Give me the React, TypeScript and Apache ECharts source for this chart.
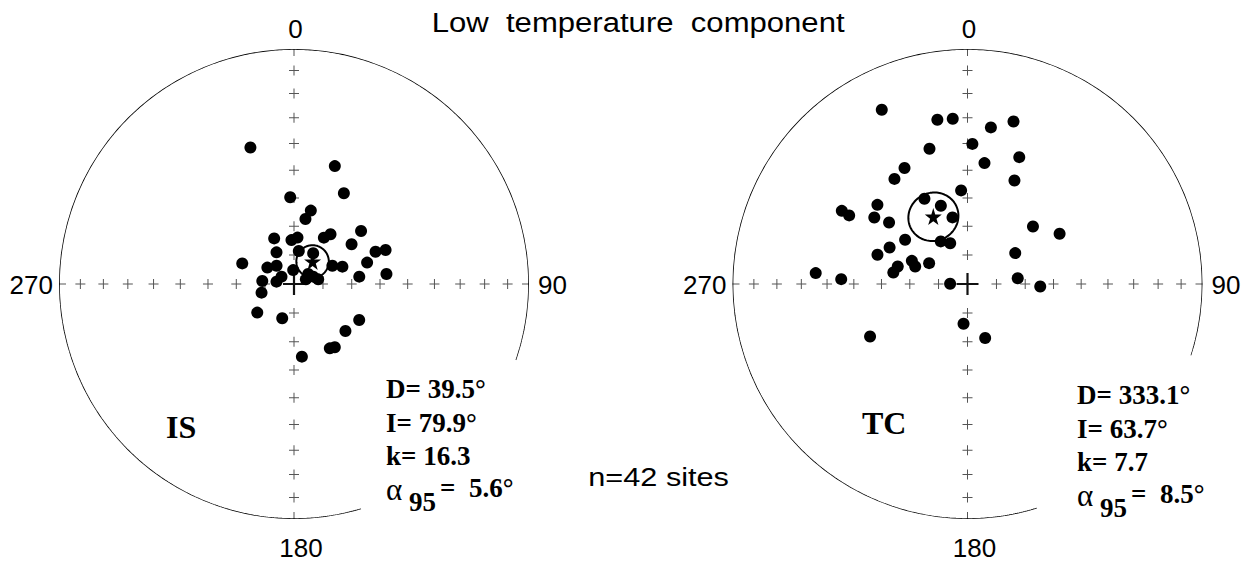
import React, { useEffect, useRef } from "react";
import * as echarts from "echarts";

// ---- data: site mean directions (declination / inclination, degrees) ----
const IS_DEC = [342.3, 19.1, 28.8, 357.5, 12.9, 10.0, 51.7, 336.5, 356.7, 4.3, 32.8, 36.3, 55.4, 331.1, 8.3, 32.0, 68.4, 69.6, 291.7, 301.6, 316.3, 356.6, 64.5, 70.3, 73.7, 54.8, 79.1, 69.1, 68.5, 300.4, 277.6, 275.4, 83.6, 83.8, 255.1, 232.1, 199.0, 118.9, 132.4, 150.9, 147.2, 173.8];
const IS_INC = [38.9, 45.9, 53.7, 59.7, 63.8, 67.1, 60.2, 72.8, 74.8, 73.9, 70.9, 68.6, 65.7, 77.5, 78.5, 77.5, 59.4, 55.8, 70.7, 79.2, 81.3, 85.2, 75.3, 72.2, 63.5, 84.0, 81.5, 82.9, 85.6, 85.0, 83.9, 79.0, 67.2, 57.5, 78.4, 73.9, 77.5, 64.1, 65.8, 64.4, 63.8, 64.6];
const TC_DEC = [333.8, 349.6, 354.9, 8.5, 15.8, 2.0, 344.3, 22.2, 8.0, 331.5, 325.2, 24.4, 356.1, 333.2, 341.2, 347.3, 311.3, 300.2, 300.1, 305.5, 308.1, 48.7, 61.4, 305.3, 327.9, 337.0, 295.1, 288.0, 57.1, 292.6, 288.5, 298.5, 284.1, 278.8, 274.1, 272.2, 270.6, 83.4, 92.0, 185.7, 241.7, 161.9];
const TC_INC = [18.5, 29.7, 30.1, 33.1, 28.9, 40.1, 40.0, 41.3, 46.9, 43.2, 44.7, 50.0, 57.2, 56.6, 61.2, 66.3, 47.7, 38.1, 41.4, 49.7, 55.1, 59.6, 53.2, 63.4, 72.6, 74.7, 60.0, 56.9, 70.3, 69.1, 70.9, 74.9, 65.0, 63.9, 35.5, 45.3, 84.0, 72.5, 64.7, 76.2, 51.1, 70.3];

const NET_LABELS = ["IS", "TC"];
const MEAN_DEC = [39.5, 333.1];
const MEAN_INC = [79.9, 63.7];
const KAPPA = [16.3, 7.7];
const ALPHA95 = [5.6, 8.5];
const N_SITES = 42;
const GRID_INC = [10, 20, 30, 40, 50, 60, 70, 80];
const CARDINAL_AZ = [0, 90, 180, 270];
const TITLE = "Low  temperature  component";

// ---- layout ----
const RAD = Math.PI / 180;
const R = 235;
const NETS = [
  { cx: 294, cy: 284, arcFrom: 163.4, arcTo: 468.9, statX: 386, statY: 389, labelX: 166, labelY: 427 },
  { cx: 967.5, cy: 284, arcFrom: 162.8, arcTo: 467.7, statX: 1077, statY: 395, labelX: 862, labelY: 422.5 },
];
const SANS = "'Liberation Sans', Arial, Helvetica, sans-serif";
const SERIF = "'Liberation Serif', 'Times New Roman', serif";

const PLUS = "path://M0,4.5h10v1h-10z M4.5,0h1v10h-1z";
const PLUS_BIG = "path://M0,9h20v2h-20z M9,0h2v20h-2z";
const BAR = "path://M0,0h10v1h-10z";
const STAR = "path://M50,0 L61,35 L98,35 L68,57 L79,91 L50,70 L21,91 L32,57 L2,35 L39,35 Z";

const eqArea = (inc: number) => Math.SQRT2 * Math.sin(((90 - Math.abs(inc)) / 2) * RAD);

function smallCircle(dec: number, inc: number, a95: number) {
  const d = dec * RAD, i = inc * RAD, a = a95 * RAD;
  const m = [Math.cos(i) * Math.cos(d), Math.cos(i) * Math.sin(d), Math.sin(i)];
  const u = [-Math.sin(i) * Math.cos(d), -Math.sin(i) * Math.sin(d), Math.cos(i)];
  const v = [-Math.sin(d), Math.cos(d), 0];
  const pts: number[][] = [];
  for (let k = 0; k <= 120; k++) {
    const p = (k * 3) * RAD;
    const c = [0, 1, 2].map(
      (j) => Math.cos(a) * m[j] + Math.sin(a) * (Math.cos(p) * u[j] + Math.sin(p) * v[j])
    );
    const inc2 = Math.asin(Math.max(-1, Math.min(1, c[2]))) / RAD;
    const dec2 = ((Math.atan2(c[1], c[0]) / RAD) + 360) % 360;
    pts.push([eqArea(inc2), dec2]);
  }
  return pts;
}

function text(x: number, y: number, str: string, opts: any = {}) {
  return {
    type: "text",
    x,
    y,
    scaleX: opts.scaleX ?? 1,
    silent: true,
    style: {
      text: str,
      fill: "#000",
      fontSize: opts.size ?? 26,
      fontFamily: opts.family ?? SANS,
      fontWeight: opts.weight ?? "normal",
      align: opts.align ?? "left",
      textAlign: opts.align ?? "left",
      verticalAlign: "middle",
      textVerticalAlign: "middle",
    },
  };
}

export default function App() {
  const ref = useRef<HTMLDivElement>(null);

  useEffect(() => {
    if (!ref.current) return;
    const chart = echarts.init(ref.current, null, { renderer: "svg" });

    const series: any[] = [];
    const graphic: any[] = [];

    NETS.forEach((net, i) => {
      const arc: number[][] = [];
      for (let a = net.arcFrom; a <= net.arcTo; a += 0.5) arc.push([1, a % 360]);
      arc.push([1, net.arcTo % 360]);
      series.push({
        type: "line", coordinateSystem: "polar", polarIndex: i, data: arc,
        symbol: "none", showSymbol: false, silent: true, z: 2,
        lineStyle: { color: "#000", width: 1.7 },
      });

      const crosses: number[][] = [];
      GRID_INC.forEach((inc) => CARDINAL_AZ.forEach((az) => crosses.push([eqArea(inc), az])));
      series.push({
        type: "scatter", coordinateSystem: "polar", polarIndex: i, data: crosses,
        symbol: PLUS, symbolSize: 10, silent: true, z: 1,
        itemStyle: { color: "#555", opacity: 1 },
      });

      series.push({
        type: "scatter", coordinateSystem: "polar", polarIndex: i,
        data: CARDINAL_AZ.map((az) => ({ value: [1 - 3.5 / R, az], symbolRotate: az % 180 === 0 ? 90 : 0 })),
        symbol: BAR, symbolSize: [7, 1], silent: true, z: 1,
        itemStyle: { color: "#555", opacity: 1 },
      });

      series.push({
        type: "scatter", coordinateSystem: "polar", polarIndex: i, data: [[0, 0]],
        symbol: PLUS_BIG, symbolSize: 22, silent: true, z: 1,
        itemStyle: { color: "#111", opacity: 1 },
      });

      const decs = i === 0 ? IS_DEC : TC_DEC;
      const incs = i === 0 ? IS_INC : TC_INC;
      series.push({
        type: "scatter", coordinateSystem: "polar", polarIndex: i,
        data: decs.map((d, j) => [eqArea(incs[j]), d]),
        symbol: "circle", symbolSize: 12, silent: true, z: 3,
        itemStyle: { color: "#000", opacity: 1 },
      });

      series.push({
        type: "line", coordinateSystem: "polar", polarIndex: i,
        data: smallCircle(MEAN_DEC[i], MEAN_INC[i], ALPHA95[i]),
        symbol: "none", showSymbol: false, silent: true, z: 4,
        lineStyle: { color: "#000", width: 2 },
      });

      series.push({
        type: "scatter", coordinateSystem: "polar", polarIndex: i,
        data: [[eqArea(MEAN_INC[i]), MEAN_DEC[i]]],
        symbol: STAR, symbolSize: 17, silent: true, z: 5,
        itemStyle: { color: "#000", opacity: 1 },
      });

      // cardinal labels
      graphic.push(text(net.cx + 1.5, 29, "0", { align: "center" }));
      graphic.push(text(net.cx + R + 9, 285, "90", { align: "left" }));
      graphic.push(text(net.cx + 7, 548, "180", { align: "center" }));
      graphic.push(text(net.cx - R - 6, 285, "270", { align: "right" }));

      // net label
      graphic.push(text(net.labelX, net.labelY, NET_LABELS[i], { family: SERIF, weight: "bold", size: 32 }));

      // statistics
      const sx = net.statX, sy = net.statY;
      const bold = { family: SERIF, weight: "bold", size: 27 };
      graphic.push(text(sx, sy, `D= ${MEAN_DEC[i].toFixed(1)}\u00B0`, bold));
      graphic.push(text(sx, sy + 33.7, `I= ${MEAN_INC[i].toFixed(1)}\u00B0`, bold));
      graphic.push(text(sx, sy + 67.4, `k= ${KAPPA[i].toFixed(1)}`, bold));
      graphic.push(text(sx, sy + 100, "\u03B1", { family: SERIF, size: 31 }));
      graphic.push(text(sx + 23, sy + 112.5, "95", bold));
      graphic.push(text(sx + 54, sy + 99, `=  ${ALPHA95[i].toFixed(1)}\u00B0`, bold));
    });

    graphic.push(text(431.7, 22.5, TITLE, { size: 28, scaleX: 1.11 }));
    graphic.push(text(588.3, 476.4, `n=${N_SITES} sites`, { size: 26, scaleX: 1.18 }));

    const hidden = {
      axisLine: { show: false }, axisTick: { show: false },
      axisLabel: { show: false }, splitLine: { show: false }, splitArea: { show: false },
    };

    chart.setOption({
      animation: false,
      backgroundColor: "#ffffff",
      polar: NETS.map((n) => ({ center: [n.cx, n.cy], radius: R })),
      angleAxis: NETS.map((_, i) => ({
        polarIndex: i, type: "value", min: 0, max: 360, startAngle: 90, clockwise: true, ...hidden,
      })),
      radiusAxis: NETS.map((_, i) => ({
        polarIndex: i, type: "value", min: 0, max: 1, ...hidden,
      })),
      series,
      graphic: { elements: graphic },
    });

    return () => chart.dispose();
  }, []);

  return (
    <div
      ref={ref}
      style={{ position: "fixed", left: 0, top: 0, width: 1248, height: 563, background: "#fff" }}
    />
  );
}
